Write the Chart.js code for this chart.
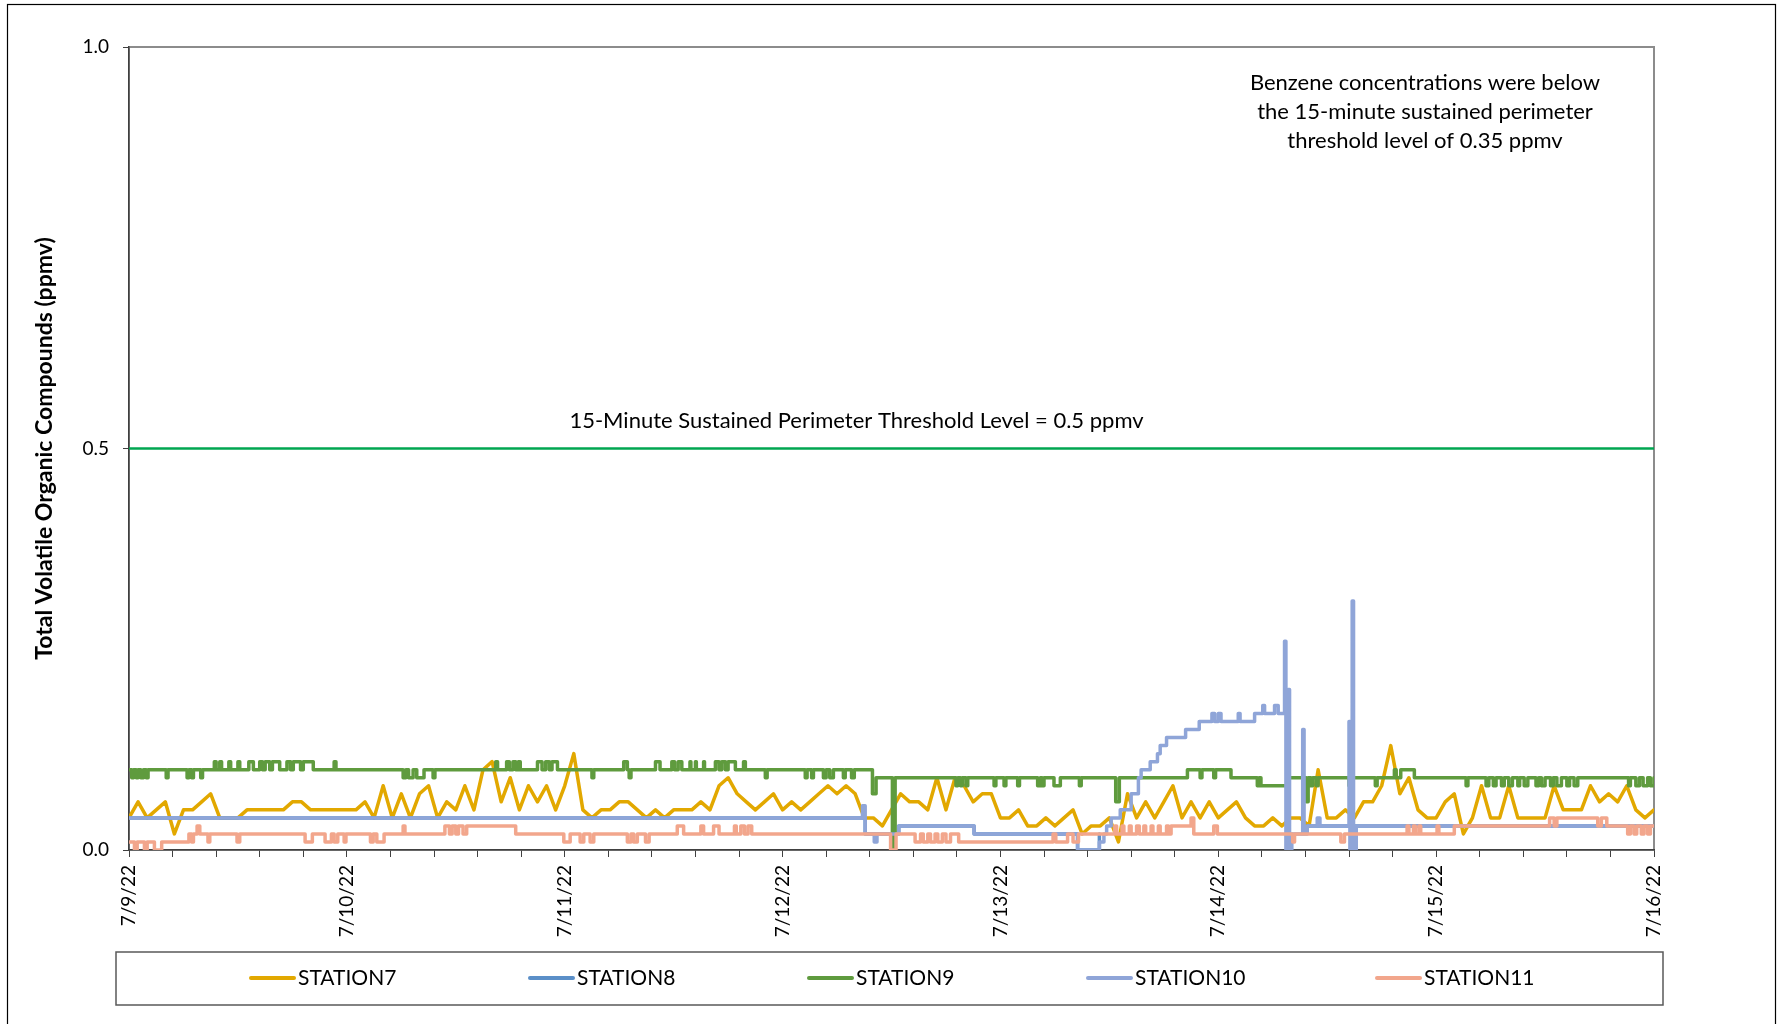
<!DOCTYPE html>
<html>
<head>
<meta charset="utf-8">
<script src="https://cdn.jsdelivr.net/npm/chart.js@4.4.0/dist/chart.umd.min.js"></script>
<style>
  html, body { margin: 0; padding: 0; background: #fff; }
</style>
</head>
<body>
<canvas id="tvocChart" width="1784" height="1024"></canvas>
<script>
// x values are hours from 7/9/22 00:00
const dayLabels = ['7/9/22', '7/10/22', '7/11/22', '7/12/22', '7/13/22', '7/14/22', '7/15/22', '7/16/22'];
const seriesNames = ['STATION7', 'STATION8', 'STATION9', 'STATION10', 'STATION11'];
const seriesColors = ['#E2A800', '#5B8FC8', '#5F9B3E', '#8FA5D8', '#F2A68C'];
const yTitle = 'Total Volatile Organic Compounds (ppmv)';
const thresholdLevel = 0.5;
const thresholdNote = '15-Minute Sustained Perimeter Threshold Level = 0.5 ppmv';
const benzeneNote = ['Benzene concentrations were below', 'the 15-minute sustained perimeter', 'threshold level of 0.35 ppmv'];

// STATION7, one reading per hour (hour 0 .. 168)
const station7 = [
  0.04, 0.06, 0.04, 0.05, 0.06, 0.02, 0.05, 0.05, 0.06, 0.07,
  0.04, 0.04, 0.04, 0.05, 0.05, 0.05, 0.05, 0.05, 0.06, 0.06,
  0.05, 0.05, 0.05, 0.05, 0.05, 0.05, 0.06, 0.04, 0.08, 0.04,
  0.07, 0.04, 0.07, 0.08, 0.04, 0.06, 0.05, 0.08, 0.05, 0.10,
  0.11, 0.06, 0.09, 0.05, 0.08, 0.06, 0.08, 0.05, 0.08, 0.12,
  0.05, 0.04, 0.05, 0.05, 0.06, 0.06, 0.05, 0.04, 0.05, 0.04,
  0.05, 0.05, 0.05, 0.06, 0.05, 0.08, 0.09, 0.07, 0.06, 0.05,
  0.06, 0.07, 0.05, 0.06, 0.05, 0.06, 0.07, 0.08, 0.07, 0.08,
  0.07, 0.04, 0.04, 0.03, 0.05, 0.07, 0.06, 0.06, 0.05, 0.09,
  0.05, 0.09, 0.08, 0.06, 0.07, 0.07, 0.04, 0.04, 0.05, 0.03,
  0.03, 0.04, 0.03, 0.04, 0.05, 0.02, 0.03, 0.03, 0.04, 0.01,
  0.07, 0.04, 0.06, 0.04, 0.06, 0.08, 0.04, 0.06, 0.04, 0.06,
  0.04, 0.05, 0.06, 0.04, 0.03, 0.03, 0.04, 0.03, 0.04, 0.04,
  0.03, 0.10, 0.04, 0.04, 0.05, 0.04, 0.06, 0.06, 0.08, 0.13,
  0.07, 0.09, 0.05, 0.04, 0.04, 0.06, 0.07, 0.02, 0.04, 0.08,
  0.04, 0.04, 0.08, 0.04, 0.04, 0.04, 0.04, 0.08, 0.05, 0.05,
  0.05, 0.08, 0.06, 0.07, 0.06, 0.08, 0.05, 0.04, 0.05
];

// step series: [hour where the reading changes, new reading]
const station8 = [
  [0, 0.04], [81.1, 0.02], [84.8, 0.03], [93.1, 0.02], [104.5, 0.0], [106.9, 0.02],
  [107.5, null], [129.8, 0.03], [168, 0.03]
];

const station9 = [
  [0, 0.10], [0.3, 0.09], [0.5, 0.10], [0.8, 0.09], [1.0, 0.10], [1.3, 0.09], [1.6, 0.10], [1.9, 0.09], [2.1, 0.10],
  [4.1, 0.09], [4.3, 0.10], [6.4, 0.09], [6.6, 0.10], [6.9, 0.09], [7.1, 0.10], [7.9, 0.09], [8.1, 0.10],
  [9.4, 0.11], [9.6, 0.10], [10.0, 0.11], [10.2, 0.10], [11.0, 0.11], [11.2, 0.10], [12.0, 0.11], [12.2, 0.10],
  [13.2, 0.11], [13.7, 0.10], [14.4, 0.11], [14.7, 0.10], [15.0, 0.11], [15.5, 0.10], [15.8, 0.11], [16.6, 0.10],
  [17.4, 0.11], [17.8, 0.10], [18.1, 0.11], [18.9, 0.10], [19.2, 0.11], [20.3, 0.10], [22.6, 0.11], [22.8, 0.10],
  [30.2, 0.09], [30.5, 0.10], [30.8, 0.09], [31.3, 0.10], [31.7, 0.09], [32.5, 0.10], [33.5, 0.09], [33.7, 0.10],
  [40.4, 0.11], [40.6, 0.10], [41.6, 0.11], [41.9, 0.10], [42.3, 0.11], [42.6, 0.10], [42.9, 0.11], [43.1, 0.10],
  [45.0, 0.11], [45.5, 0.10], [45.9, 0.11], [46.3, 0.10], [46.6, 0.11], [47.2, 0.10], [51.0, 0.09], [51.2, 0.10],
  [54.5, 0.11], [54.9, 0.10], [55.1, 0.09], [55.3, 0.10], [58.0, 0.11], [58.5, 0.10], [59.8, 0.11], [60.1, 0.10],
  [60.5, 0.11], [60.9, 0.10], [61.8, 0.11], [61.9, 0.10], [62.4, 0.11], [62.5, 0.10], [63.3, 0.11], [63.4, 0.10],
  [64.6, 0.11], [65.0, 0.10], [65.3, 0.11], [65.7, 0.10], [66.0, 0.11], [66.8, 0.10], [67.7, 0.11], [67.9, 0.10],
  [70.1, 0.09], [70.3, 0.10], [74.5, 0.09], [74.7, 0.10], [75.2, 0.09], [75.4, 0.10], [76.5, 0.09], [76.8, 0.10],
  [77.2, 0.09], [77.6, 0.10], [78.7, 0.09], [78.9, 0.10], [79.6, 0.09], [79.9, 0.10], [81.9, 0.07], [82.3, 0.09],
  [84.1, 0.0], [84.4, 0.09], [91.1, 0.08], [91.3, 0.09], [91.6, 0.08], [91.8, 0.09], [92.2, 0.08], [92.4, 0.09],
  [95.3, 0.08], [95.5, 0.09], [96.4, 0.08], [96.6, 0.09], [97.9, 0.08], [98.1, 0.09], [100.1, 0.08], [100.4, 0.09],
  [100.6, 0.08], [100.8, 0.09], [101.9, 0.08], [102.6, 0.09], [104.7, 0.08], [104.9, 0.09], [108.7, 0.06], [109.1, 0.09],
  [116.6, 0.10], [118.0, 0.09], [118.2, 0.10], [119.5, 0.09], [119.7, 0.10], [121.4, 0.09], [124.3, 0.08], [124.5, 0.09],
  [124.7, 0.08], [127.6, 0.09], [129.7, 0.06], [129.9, 0.09], [130.2, 0.08], [130.4, 0.09], [130.8, 0.08], [131.0, 0.09],
  [134.4, 0.08], [134.6, 0.09], [137.3, 0.08], [137.5, 0.09], [139.4, 0.10], [139.6, 0.09], [140.1, 0.10], [141.6, 0.09],
  [147.3, 0.08], [147.5, 0.09], [149.5, 0.08], [149.8, 0.09], [150.3, 0.08], [150.6, 0.09], [151.2, 0.08], [151.5, 0.09],
  [152.0, 0.08], [152.4, 0.09], [153.0, 0.08], [153.2, 0.09], [153.7, 0.08], [154.1, 0.09], [155.0, 0.08], [155.3, 0.09],
  [155.6, 0.08], [156.0, 0.09], [156.6, 0.08], [156.9, 0.09], [157.3, 0.08], [157.8, 0.09], [158.4, 0.08], [158.7, 0.09],
  [159.2, 0.08], [159.6, 0.09], [165.2, 0.08], [165.4, 0.09], [166.0, 0.08], [166.4, 0.09], [166.8, 0.08], [167.3, 0.09],
  [167.6, 0.08], [168, 0.09]
];

const station10 = [
  [0, 0.04], [80.8, 0.055], [81.1, 0.02], [82.1, 0.01], [82.4, 0.02], [84.8, 0.03], [93.1, 0.02], [104.5, 0.0],
  [106.9, 0.01], [107.4, 0.02], [107.7, 0.03], [108.2, 0.04], [109.2, 0.05], [110.4, 0.07], [111.2, 0.09], [111.5, 0.10],
  [112.5, 0.11], [113.3, 0.12], [113.6, 0.13], [114.3, 0.14], [116.4, 0.15], [117.9, 0.16], [119.3, 0.17], [119.6, 0.16],
  [120.0, 0.17], [120.3, 0.16], [122.2, 0.17], [122.4, 0.16], [124.0, 0.17], [124.9, 0.18], [125.1, 0.17], [126.2, 0.18],
  [126.6, 0.17], [127.3, 0.26], [127.45, 0.0], [127.7, 0.20], [127.85, 0.0], [128.1, 0.02], [129.3, 0.15], [129.45, 0.02],
  [129.8, 0.03], [130.9, 0.04], [131.2, 0.03], [134.4, 0.16], [134.5, 0.0], [134.75, 0.31], [134.9, 0.0], [135.2, 0.03],
  [168, 0.03]
];

const station11 = [
  [0, 0.01], [0.6, 0.0], [0.9, 0.01], [1.7, 0.0], [2.0, 0.01], [2.8, 0.0], [3.6, 0.01], [6.6, 0.02],
  [6.9, 0.01], [7.1, 0.02], [7.5, 0.03], [7.8, 0.02], [8.7, 0.01], [8.9, 0.02], [11.9, 0.01], [12.2, 0.02],
  [19.4, 0.01], [20.2, 0.02], [21.6, 0.01], [22.3, 0.02], [22.6, 0.01], [23.0, 0.02], [23.7, 0.01], [23.9, 0.02],
  [26.6, 0.01], [26.9, 0.02], [27.3, 0.01], [28.1, 0.02], [30.2, 0.03], [30.4, 0.02], [34.8, 0.03], [35.3, 0.02],
  [35.6, 0.03], [36.0, 0.02], [36.3, 0.03], [36.8, 0.02], [37.2, 0.03], [42.6, 0.02], [47.9, 0.01], [48.6, 0.02],
  [49.7, 0.01], [50.1, 0.02], [50.8, 0.01], [51.2, 0.02], [54.9, 0.01], [55.3, 0.02], [55.6, 0.01], [56.0, 0.02],
  [56.9, 0.01], [57.3, 0.02], [60.4, 0.03], [61.1, 0.02], [63.0, 0.03], [63.3, 0.02], [64.4, 0.03], [65.0, 0.02],
  [66.7, 0.03], [66.9, 0.02], [67.4, 0.03], [67.8, 0.02], [68.2, 0.03], [68.6, 0.02], [83.9, 0.0], [84.5, 0.02],
  [86.6, 0.01], [87.2, 0.02], [87.5, 0.01], [88.0, 0.02], [88.3, 0.01], [88.8, 0.02], [89.1, 0.01], [89.6, 0.02],
  [90.0, 0.01], [90.5, 0.02], [91.4, 0.01], [101.8, 0.02], [102.1, 0.01], [103.4, 0.02], [104.0, 0.01], [104.6, 0.02],
  [108.6, 0.03], [108.8, 0.02], [109.4, 0.03], [109.6, 0.02], [110.2, 0.03], [110.4, 0.02], [111.0, 0.03], [111.3, 0.02],
  [111.8, 0.03], [112.0, 0.02], [112.6, 0.03], [112.8, 0.02], [113.4, 0.03], [113.6, 0.02], [114.3, 0.03], [114.5, 0.02],
  [114.8, 0.03], [117.0, 0.04], [117.3, 0.02], [119.5, 0.03], [119.9, 0.02], [128.2, 0.01], [128.4, 0.02], [133.5, 0.01],
  [133.9, 0.02], [140.8, 0.03], [141.0, 0.02], [141.5, 0.03], [141.7, 0.02], [142.1, 0.03], [142.3, 0.02], [144.1, 0.03],
  [144.3, 0.02], [146.0, 0.03], [156.5, 0.04], [157.0, 0.03], [157.3, 0.04], [161.8, 0.03], [162.2, 0.04], [162.8, 0.03],
  [165.1, 0.02], [165.4, 0.03], [165.8, 0.02], [166.1, 0.03], [166.6, 0.02], [166.9, 0.03], [167.3, 0.02], [167.6, 0.03],
  [168, 0.03]
];

const toPoints = pairs => pairs.map(p => ({ x: p[0], y: p[1] }));
const hourly = vals => vals.map((v, h) => ({ x: h, y: v }));

Chart.defaults.font.family = 'Lato, "Open Sans", sans-serif';
Chart.defaults.color = '#000';

const lineStyle = { pointRadius: 0, borderWidth: 3.5, tension: 0, borderJoinStyle: 'round', borderCapStyle: 'round', fill: false };

// white page, outer frame, plot border, notes and the boxed legend
const chartDecor = {
  id: 'chartDecor',
  beforeDraw(chart) {
    const ctx = chart.ctx, a = chart.chartArea;
    ctx.save();
    ctx.fillStyle = '#fff';
    ctx.fillRect(0, 0, chart.width, chart.height);
    ctx.strokeStyle = '#000';
    ctx.lineWidth = 1.2;
    ctx.strokeRect(7.5, 4.5, 1768, 1040);
    ctx.strokeStyle = '#8c8c8c';
    ctx.lineWidth = 2;
    ctx.strokeRect(a.left, a.top, a.right - a.left, a.bottom - a.top);
    ctx.restore();
  },
  afterDraw(chart) {
    const ctx = chart.ctx, a = chart.chartArea, y = chart.scales.y;
    ctx.save();
    ctx.fillStyle = '#000';
    ctx.textAlign = 'center';
    ctx.textBaseline = 'middle';
    ctx.font = '22px Lato, "Open Sans", sans-serif';
    ctx.fillText(thresholdNote, (a.left + a.right) / 2 - 35, y.getPixelForValue(thresholdLevel) - 28);
    benzeneNote.forEach((line, i) => ctx.fillText(line, a.right - 229, a.top + 36 + i * 29));

    // legend box
    ctx.strokeStyle = '#595959';
    ctx.lineWidth = 1.5;
    ctx.strokeRect(116, 952, 1547, 53);
    const legendX = [251, 530, 809, 1088, 1377];
    ctx.textAlign = 'left';
    ctx.font = '21px Lato, "Open Sans", sans-serif';
    seriesNames.forEach((name, i) => {
      ctx.strokeStyle = seriesColors[i];
      ctx.lineWidth = 4;
      ctx.lineCap = 'round';
      ctx.beginPath();
      ctx.moveTo(legendX[i], 978);
      ctx.lineTo(legendX[i] + 43, 978);
      ctx.stroke();
      ctx.fillText(name, legendX[i] + 47, 978);
    });
    ctx.restore();
  }
};

new Chart(document.getElementById('tvocChart'), {
  type: 'line',
  data: {
    datasets: [
      { ...lineStyle, label: seriesNames[0], data: hourly(station7), borderColor: seriesColors[0], order: 5 },
      { ...lineStyle, label: seriesNames[1], data: toPoints(station8), borderColor: seriesColors[1], stepped: true, order: 4 },
      { ...lineStyle, label: seriesNames[2], data: toPoints(station9), borderColor: seriesColors[2], stepped: true, order: 3 },
      { ...lineStyle, label: seriesNames[3], data: toPoints(station10), borderColor: seriesColors[3], stepped: true, order: 2 },
      { ...lineStyle, label: seriesNames[4], data: toPoints(station11), borderColor: seriesColors[4], stepped: true, order: 1 },
      { ...lineStyle, label: 'Threshold', data: [{ x: 0, y: thresholdLevel }, { x: 168, y: thresholdLevel }],
        borderColor: '#00A651', borderWidth: 2.5, order: 0 }
    ]
  },
  options: {
    responsive: false,
    animation: false,
    layout: { padding: { top: 47, right: 130, bottom: 74, left: 0 } },
    plugins: {
      legend: { display: false },
      tooltip: { enabled: false }
    },
    scales: {
      x: {
        type: 'linear',
        min: 0,
        max: 168,
        afterFit: s => { s.height = 100; },
        border: { display: true, color: '#404040', width: 1.5 },
        grid: { drawOnChartArea: false, drawTicks: true, tickLength: 7, color: '#404040' },
        ticks: {
          stepSize: 4.8,
          autoSkip: false,
          minRotation: 90,
          maxRotation: 90,
          padding: 8,
          font: { size: 19 },
          callback: v => {
            const d = v / 24;
            return Math.abs(d - Math.round(d)) < 1e-6 ? dayLabels[Math.round(d)] : '';
          }
        }
      },
      y: {
        min: 0,
        max: 1,
        afterFit: s => { s.width = 129; },
        border: { display: true, color: '#404040', width: 1.5 },
        grid: { drawOnChartArea: false, drawTicks: true, tickLength: 6, color: '#404040' },
        ticks: { stepSize: 0.5, padding: 14, font: { size: 19 }, callback: v => v.toFixed(1) },
        title: { display: true, text: yTitle, font: { size: 23, weight: 'bold' }, padding: { top: 31, bottom: 0 } }
      }
    }
  },
  plugins: [chartDecor]
});
</script>
</body>
</html>
